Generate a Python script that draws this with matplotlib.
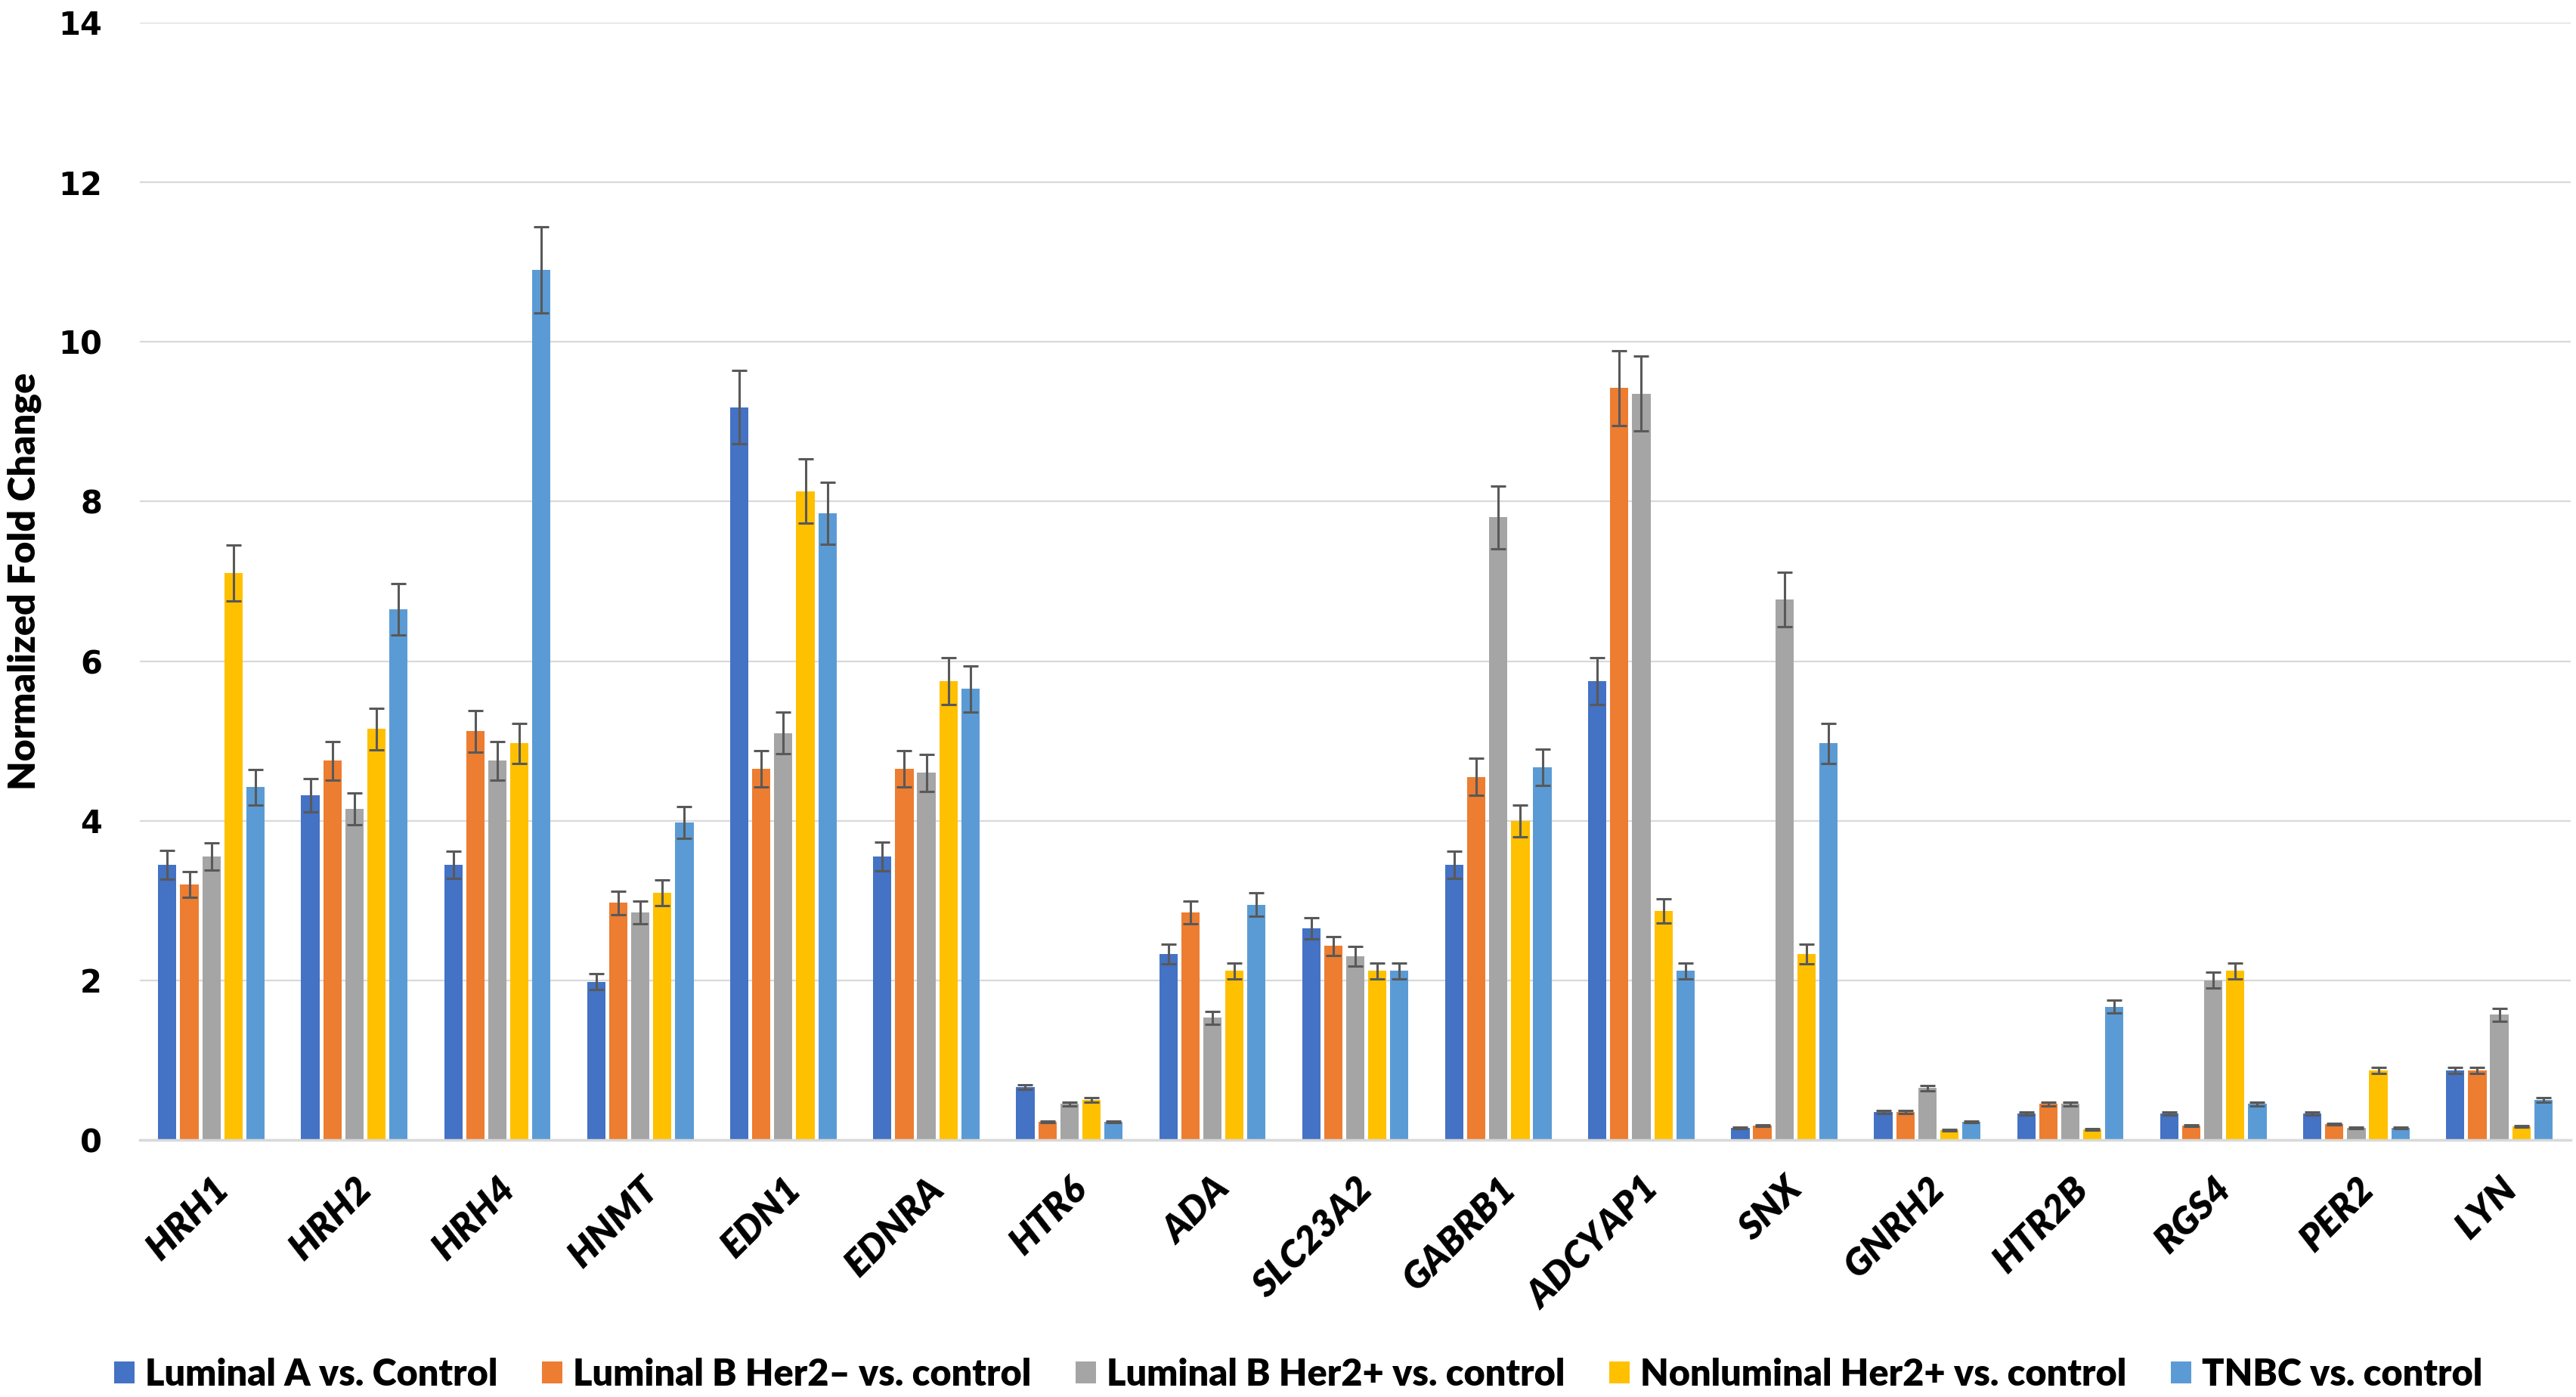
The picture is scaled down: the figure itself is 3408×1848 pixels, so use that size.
import matplotlib
matplotlib.use("Agg")
import matplotlib.pyplot as plt
import numpy as np

genes = ["HRH1", "HRH2", "HRH4", "HNMT", "EDN1", "EDNRA", "HTR6", "ADA", "SLC23A2",
         "GABRB1", "ADCYAP1", "SNX", "GNRH2", "HTR2B", "RGS4", "PER2", "LYN"]

series_names = ["Luminal A vs. Control", "Luminal B Her2\u2013 vs. control",
                "Luminal B Her2+ vs. control", "Nonluminal Her2+ vs. control",
                "TNBC vs. control"]

lumA = [3.45, 4.32, 3.45, 1.98, 9.18, 3.55, 0.66, 2.33, 2.65, 3.45, 5.75, 0.15, 0.35, 0.33, 0.33, 0.33, 0.87]
lumB_neg = [3.20, 4.75, 5.12, 2.97, 4.65, 4.65, 0.23, 2.85, 2.43, 4.55, 9.42, 0.18, 0.35, 0.45, 0.18, 0.20, 0.87]
lumB_pos = [3.55, 4.15, 4.75, 2.85, 5.10, 4.60, 0.45, 1.53, 2.30, 7.80, 9.35, 6.77, 0.65, 0.45, 2.00, 0.15, 1.57]
nonlum = [7.10, 5.15, 4.97, 3.10, 8.13, 5.75, 0.50, 2.12, 2.12, 4.00, 2.87, 2.33, 0.12, 0.13, 2.12, 0.87, 0.17]
tnbc = [4.42, 6.65, 10.90, 3.98, 7.85, 5.65, 0.23, 2.95, 2.12, 4.67, 2.12, 4.97, 0.23, 1.67, 0.45, 0.15, 0.50]

err_lumA = [0.18, 0.21, 0.17, 0.10, 0.46, 0.18, 0.03, 0.12, 0.13, 0.17, 0.29, 0.01, 0.02, 0.02, 0.02, 0.02, 0.04]
err_lumB_neg = [0.16, 0.24, 0.26, 0.15, 0.23, 0.23, 0.01, 0.14, 0.12, 0.23, 0.47, 0.01, 0.02, 0.02, 0.01, 0.01, 0.04]
err_lumB_pos = [0.17, 0.20, 0.24, 0.14, 0.26, 0.23, 0.02, 0.08, 0.12, 0.39, 0.47, 0.34, 0.03, 0.02, 0.10, 0.01, 0.08]
err_nonlum = [0.35, 0.26, 0.25, 0.16, 0.40, 0.29, 0.03, 0.10, 0.10, 0.20, 0.15, 0.12, 0.01, 0.01, 0.10, 0.04, 0.01]
err_tnbc = [0.22, 0.32, 0.54, 0.20, 0.39, 0.29, 0.01, 0.15, 0.10, 0.23, 0.10, 0.25, 0.01, 0.08, 0.02, 0.01, 0.03]

yticks = [0, 2, 4, 6, 8, 10, 12, 14]

values = [lumA, lumB_neg, lumB_pos, nonlum, tnbc]
errors = [err_lumA, err_lumB_neg, err_lumB_pos, err_nonlum, err_tnbc]
colors = ["#4472C4", "#ED7D31", "#A5A5A5", "#FFC000", "#5B9BD5"]

fig = plt.figure(figsize=(34.08, 18.48), dpi=100)
ax = fig.add_axes([0.0543, 0.184, 0.9437, 0.7998])

x = np.arange(len(genes))
pitch = 0.154
width = 0.128
for i, (vals, errs, c, name) in enumerate(zip(values, errors, colors, series_names)):
    pos = x + (i - 2) * pitch
    ax.bar(pos, vals, width=width, color=c, label=name, zorder=2)
    ax.errorbar(pos, vals, yerr=errs, fmt="none", ecolor="#595959",
                elinewidth=2.2, capsize=7.5, capthick=2.2, zorder=3)

ax.set_xlim(-0.5, len(genes) - 0.5)
ax.set_ylim(0, 14)
ax.set_yticks(yticks)
ax.set_yticklabels([str(t) for t in yticks], fontsize=30, fontweight="bold",
                   family="DejaVu Sans")
ax.yaxis.grid(True, color="#d9d9d9", linewidth=1.6, zorder=0)
ax.set_axisbelow(True)
for s in ["top", "right", "left"]:
    ax.spines[s].set_visible(False)
ax.spines["bottom"].set_color("#d9d9d9")
ax.spines["bottom"].set_linewidth(2.5)
ax.tick_params(axis="both", length=0)
ax.tick_params(axis="y", pad=36)

ax.set_xticks(x)
ax.set_xticklabels(genes, rotation=45, ha="right", rotation_mode="anchor",
                   fontsize=36, fontweight="heavy", style="italic", family="Lato")
ax.tick_params(axis="x", pad=30)

ax.set_ylabel("Normalized Fold Change", fontsize=36, fontweight="heavy",
              family="Lato", labelpad=16)

fig.legend(loc="center", bbox_to_anchor=(0.504, 0.016), ncol=5, frameon=False,
           prop={"family": "Lato", "weight": "heavy", "size": 35},
           handlelength=0.55, handleheight=0.55, handletextpad=0.3,
           columnspacing=1.2)

fig.savefig("out.png", dpi=100)
